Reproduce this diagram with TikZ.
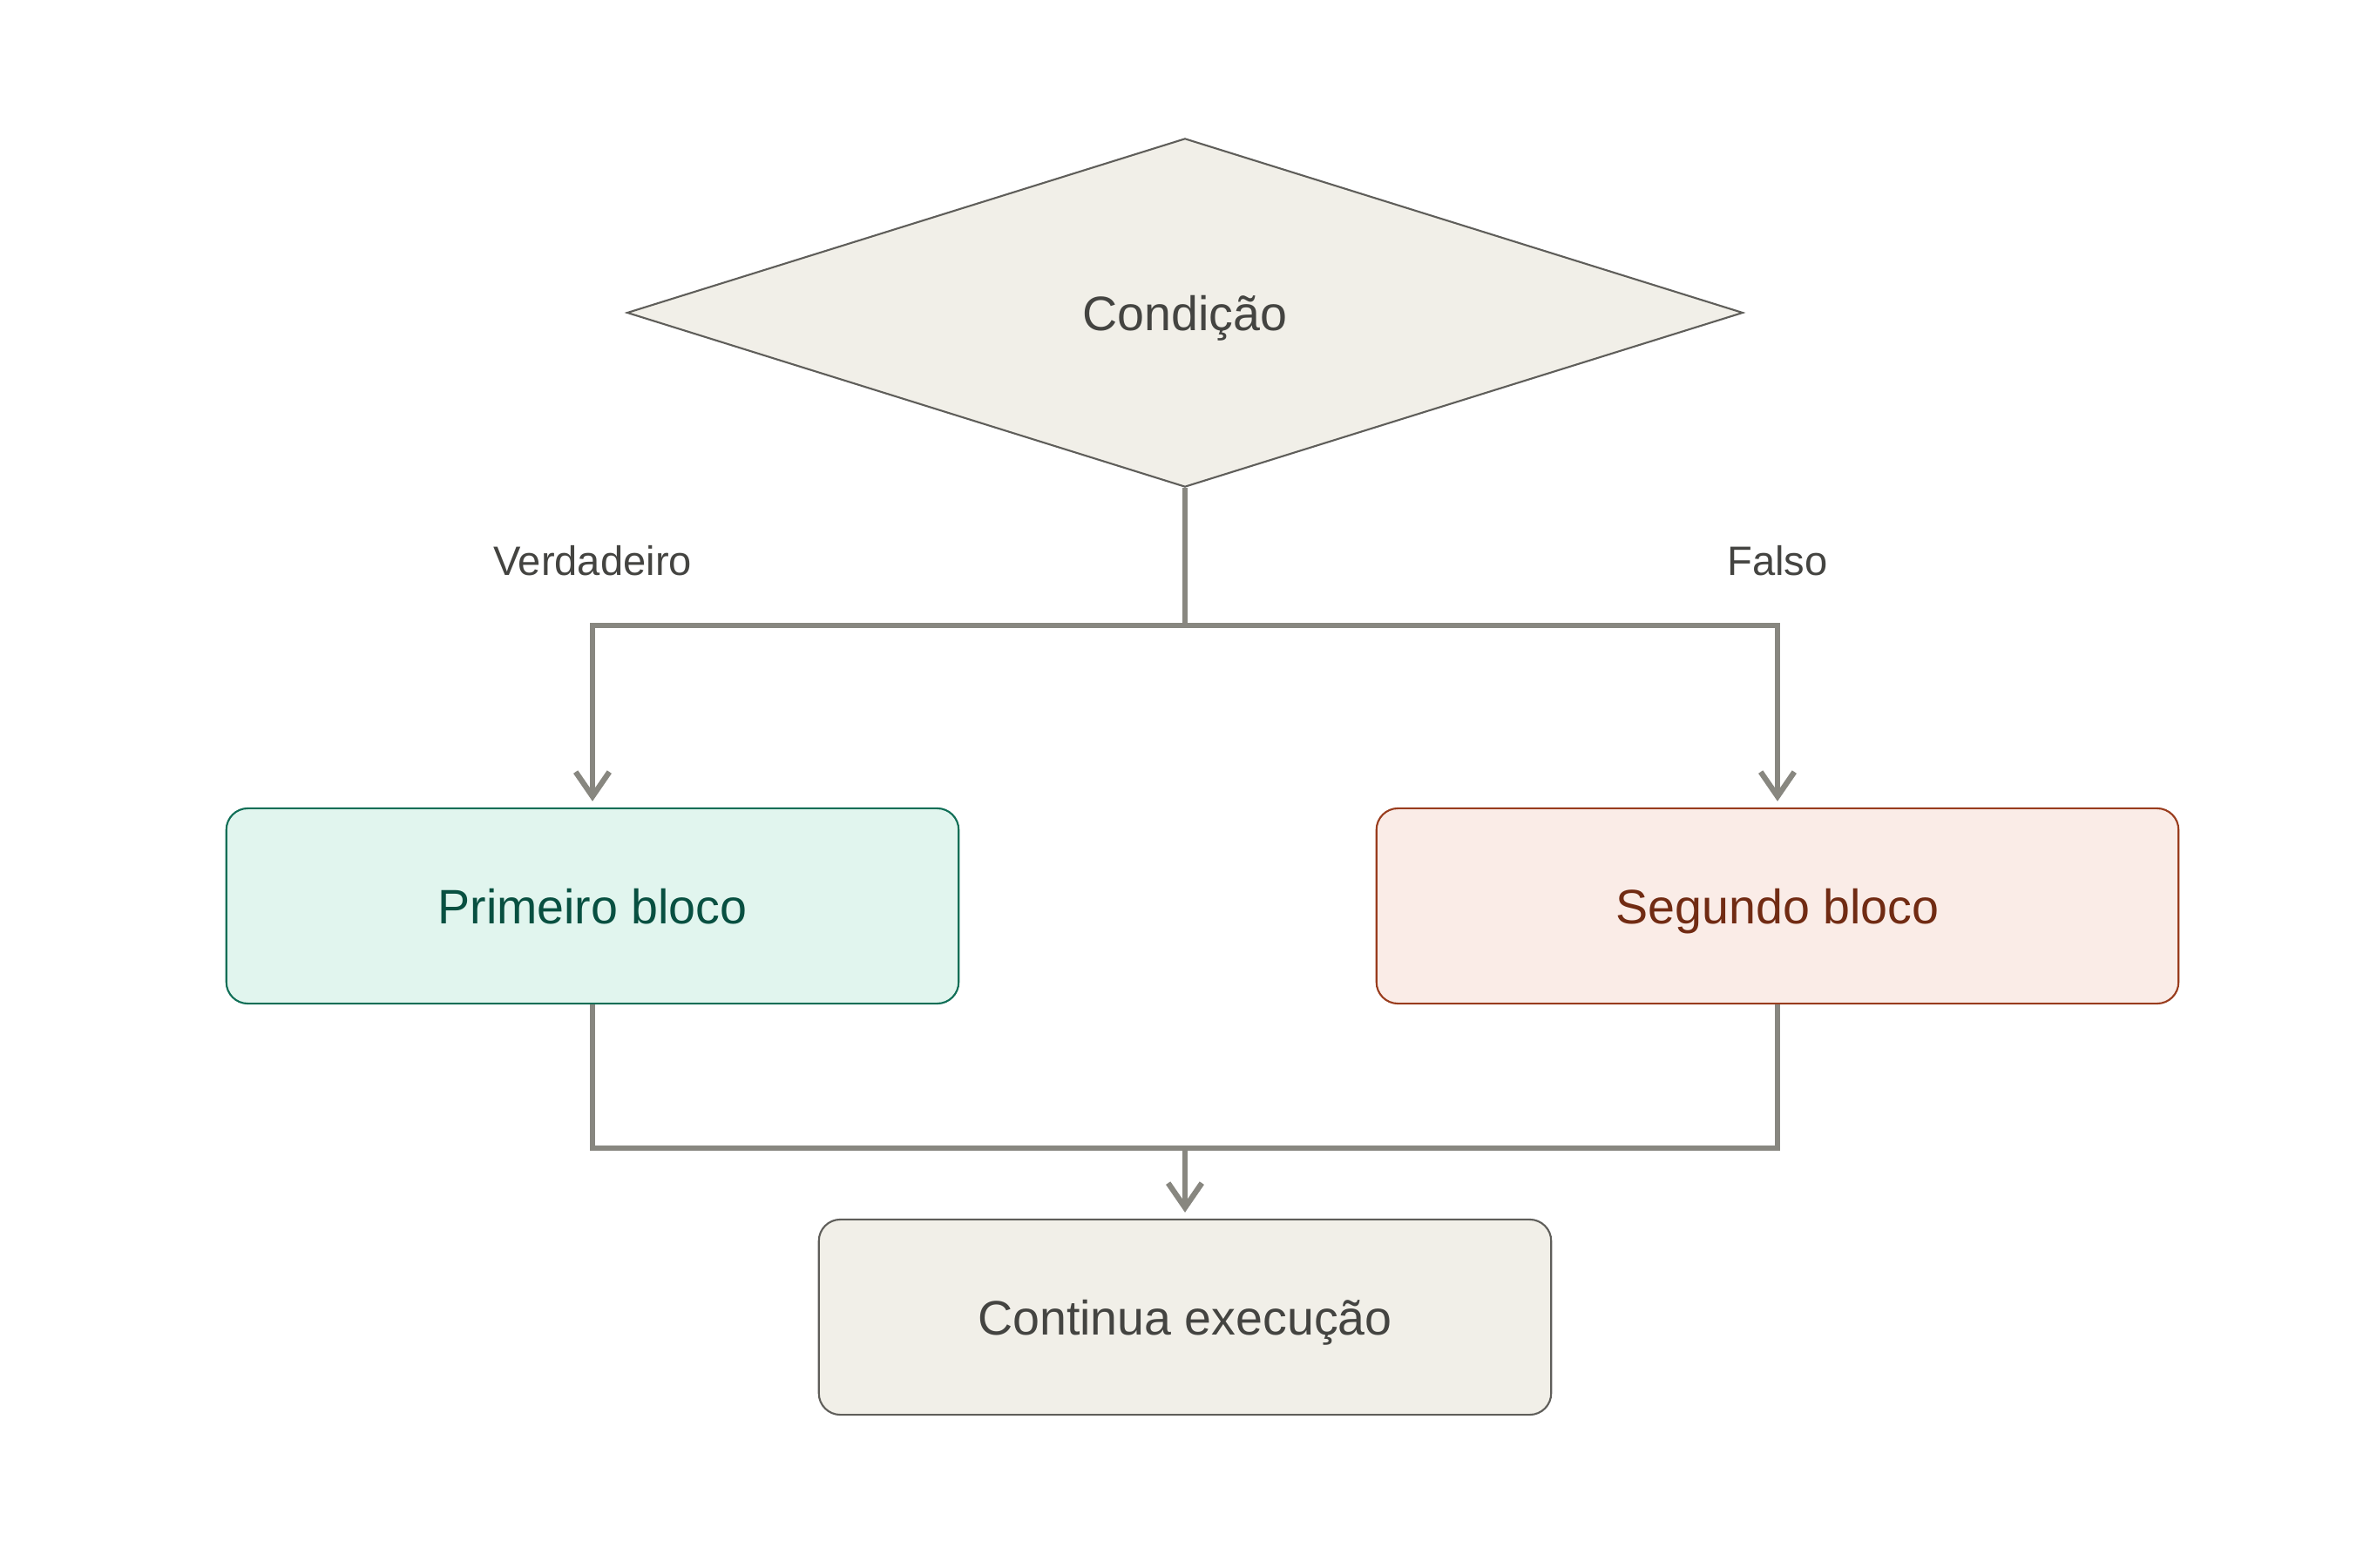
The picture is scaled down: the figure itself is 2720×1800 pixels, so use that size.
\documentclass[tikz,border=0pt]{standalone}
\usepackage{fontspec}
\setmainfont{Liberation Sans}
\usetikzlibrary{shapes.geometric,arrows.meta}
\definecolor{neutralfill}{HTML}{F1EFE8}
\definecolor{neutraldraw}{HTML}{5F5E5A}
\definecolor{neutraltext}{HTML}{444441}
\definecolor{greenfill}{HTML}{E1F5EE}
\definecolor{greendraw}{HTML}{0F6E56}
\definecolor{greentext}{HTML}{085041}
\definecolor{redfill}{HTML}{FAECE7}
\definecolor{reddraw}{HTML}{993C1D}
\definecolor{redtext}{HTML}{712B13}
\definecolor{linecol}{HTML}{888780}
\tikzset{
  boxbase/.style={rectangle, rounded corners=7pt, line width=0.6pt, minimum width=8.4cm, minimum height=2.24cm, inner sep=0pt, text depth=0pt, font=\fontsize{15.8}{19}\selectfont},
  neutralbox/.style={boxbase, fill=neutralfill, draw=neutraldraw, text=neutraltext},
  greenbox/.style={boxbase, fill=greenfill, draw=greendraw, text=greentext},
  redbox/.style={boxbase, fill=redfill, draw=reddraw, text=redtext},
  decision/.style={diamond, fill=neutralfill, draw=neutraldraw, line width=0.6pt, minimum width=12.8cm, minimum height=4cm, inner sep=0pt, text depth=0pt, text=neutraltext, font=\fontsize{15.8}{19}\selectfont},
  conn/.style={draw=linecol, line width=1.8pt},
  arr/.style={conn, -{Straight Barb[length=8pt,width=11pt]}, shorten >=2pt},
  lbl/.style={text=neutraltext, font=\fontsize{13.4}{16}\selectfont},
}
\begin{document}
\begin{tikzpicture}[x=0.01cm, y=-0.01cm]
\useasboundingbox (0,0) rectangle (2720,1800);
\node[decision] (cond) at (1360,359) {Condição};
\node[greenbox] (prim) at (680,1040) {Primeiro bloco};
\node[redbox, minimum width=9.2cm] (seg) at (2040,1040) {Segundo bloco};
\node[neutralbox] (cont) at (1360,1512) {Continua execução};
\node[lbl] (lv) at (680,644) {Verdadeiro};
\node[lbl] (lf) at (2040,644) {Falso};
\coordinate (split) at (1360,718);
\coordinate (merge) at (1360,1318);
\draw[conn] (cond.south) -- (split);
\draw[arr] (split) -| (prim.north);
\draw[arr] (split) -| (seg.north);
\draw[conn] (prim.south) |- (merge);
\draw[conn] (seg.south) |- (merge);
\draw[arr] (merge) -- (cont.north);
\end{tikzpicture}
\end{document}
